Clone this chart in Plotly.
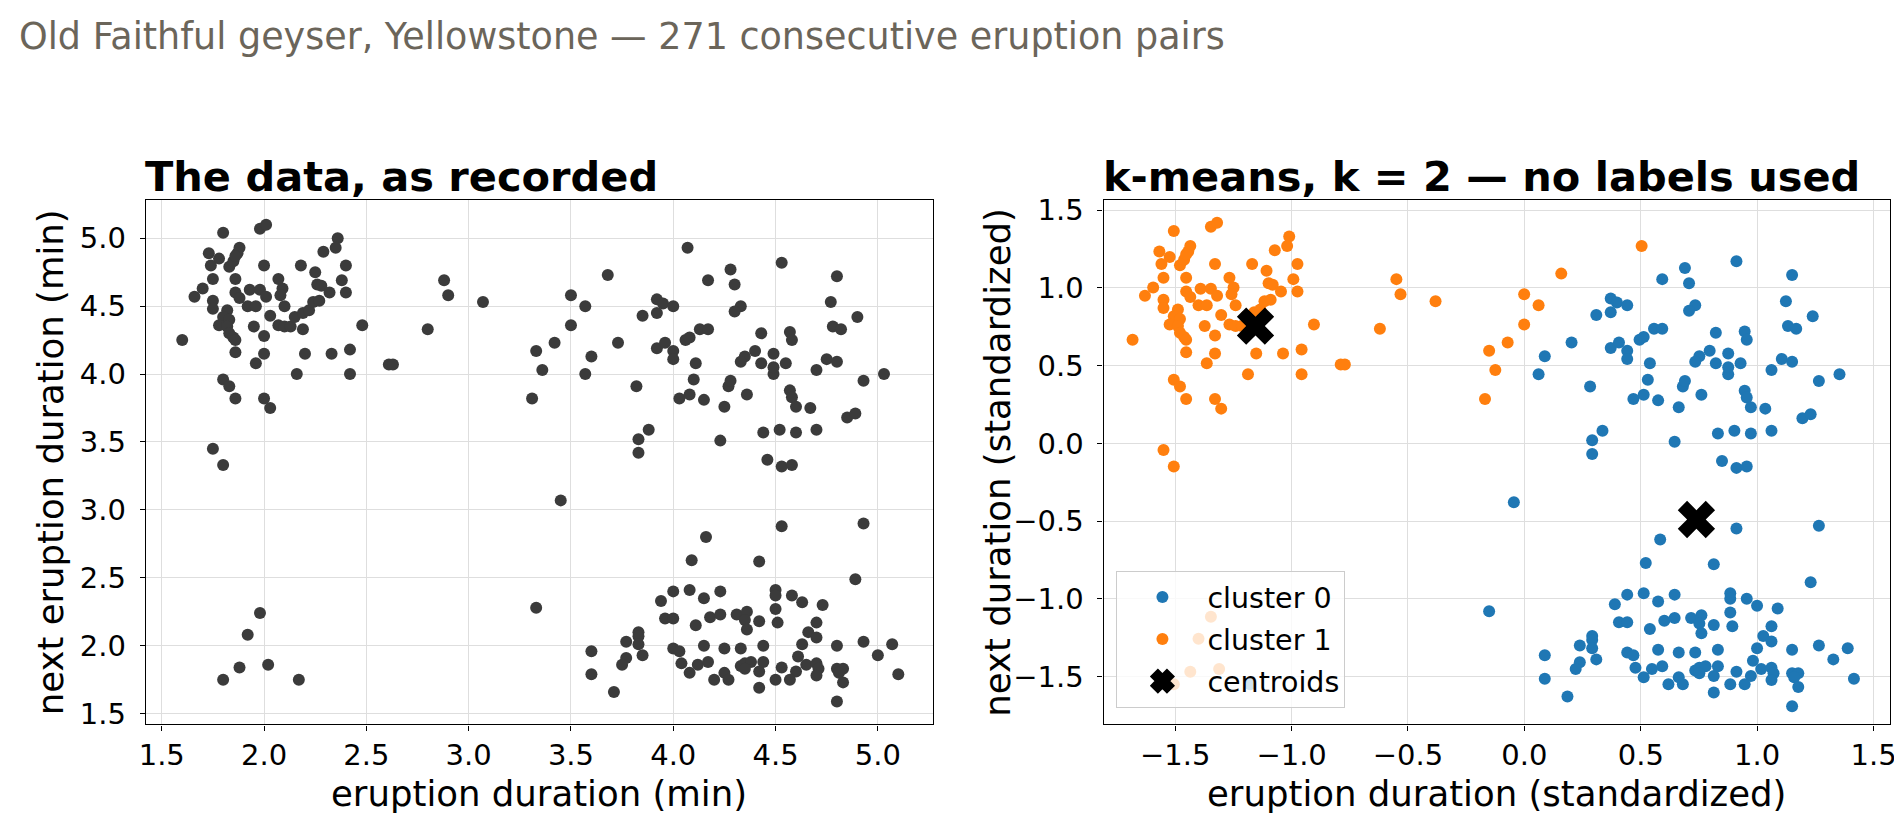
import numpy as np
import plotly.graph_objects as go

# Old Faithful: duration of one eruption (min) and of the next one (min)
eruption = [
    1.80, 1.98, 2.01, 1.73, 1.78, 1.83, 1.85, 1.87, 1.88, 1.86, 1.74, 2.00, 2.18, 2.25, 2.29,
    1.75, 1.86, 2.07, 1.70, 1.66, 1.75, 1.75, 1.86, 1.88, 1.93, 1.98, 2.01, 1.92, 1.96, 2.09,
    2.08, 2.10, 1.82, 1.80, 1.83, 1.78, 1.82, 1.95, 2.03, 2.07, 2.10, 2.13, 2.15, 2.19, 2.22,
    2.24, 2.27, 2.26, 2.28, 2.19, 1.83, 1.85, 1.86, 2.00, 1.60, 1.86, 2.00, 1.96, 2.20, 2.16,
    1.80, 1.83, 1.86, 2.00, 2.03,
    2.36, 2.35, 2.40, 2.38, 2.40, 2.32, 2.48, 2.33, 2.42, 2.42, 2.61, 2.63, 2.80, 2.88, 2.90,
    3.07, 3.42, 3.33, 3.36, 3.31,
    3.50, 3.57, 3.50, 3.60, 3.57, 3.68, 3.73, 3.82, 3.92, 3.95, 3.92, 3.85, 4.00, 3.92, 3.96,
    4.00, 4.00, 4.07, 4.17, 4.28, 4.30, 4.33, 4.30, 4.13, 4.17, 4.06, 4.08, 4.11, 4.10, 4.03,
    4.08, 4.15, 4.25, 4.27, 4.28, 4.36, 4.43, 4.40, 4.35, 4.33, 4.43, 4.49, 4.49, 4.53, 3.88,
    3.83, 4.23, 4.44, 4.52,
    4.80, 4.77, 4.90, 4.78, 4.82, 4.57, 4.58, 4.55, 4.49, 4.75, 4.80, 4.70, 4.93, 5.03, 4.57,
    4.58, 4.60, 4.67, 4.85, 4.89, 4.60, 4.70,
    1.75, 1.80, 1.98, 1.92, 1.88, 2.02, 1.80, 2.17,
    4.46, 3.83, 3.45, 3.33, 4.16, 4.09, 4.42, 4.00, 4.08, 4.15, 4.23, 3.94, 3.96, 4.00, 4.11,
    4.18, 4.23, 4.31, 4.36, 4.35, 4.36, 4.42, 3.83, 3.83, 3.77, 3.83, 3.60, 3.60, 3.77, 3.75,
    3.85, 3.71, 4.00, 4.03, 4.15, 4.25, 4.33, 4.44, 4.04, 4.08, 4.12, 4.17, 4.20, 4.25, 4.27,
    4.33, 4.35, 4.38, 4.35, 4.42, 4.44, 4.42,
    4.53, 4.58, 4.53, 4.93, 4.89, 4.50, 4.50, 4.58, 4.63, 4.73, 4.50, 4.51, 4.70, 4.66, 4.70,
    4.63, 4.80, 4.93, 5.07, 5.00, 4.53, 4.61, 4.65, 4.70, 4.71, 4.70, 4.60, 4.57, 4.50, 4.80,
    4.83, 4.81, 4.83, 4.80, 5.10,
]
next_eruption = [
    5.04, 5.07, 5.10, 4.89, 4.85, 4.79, 4.83, 4.89, 4.93, 4.87, 4.80, 4.80, 4.80, 4.75, 4.90,
    4.70, 4.70, 4.70, 4.63, 4.57, 4.54, 4.48, 4.60, 4.56, 4.62, 4.62, 4.57, 4.50, 4.50, 4.63,
    4.58, 4.50, 4.47, 4.42, 4.40, 4.36, 4.35, 4.35, 4.43, 4.36, 4.35, 4.35, 4.42, 4.45, 4.47,
    4.53, 4.54, 4.66, 4.65, 4.33, 4.30, 4.27, 4.25, 4.28, 4.25, 4.16, 4.15, 4.08, 4.15, 4.00,
    3.96, 3.91, 3.82, 3.82, 3.75,
    5.00, 4.93, 4.80, 4.69, 4.60, 4.60, 4.36, 4.15, 4.18, 4.00, 4.07, 4.07, 4.33, 4.69, 4.58,
    4.53, 4.23, 4.17, 4.03, 3.82,
    4.58, 4.50, 4.36, 4.13, 4.00, 4.73, 4.23, 3.91, 4.55, 4.52, 4.45, 4.43, 4.50, 4.19, 4.23,
    4.17, 4.11, 4.93, 4.69, 4.77, 4.66, 4.50, 4.46, 4.33, 4.33, 4.25, 4.27, 4.08, 3.96, 3.82,
    3.85, 3.81, 3.76, 3.91, 3.95, 3.85, 4.30, 4.17, 4.13, 4.09, 4.08, 4.15, 4.00, 4.82, 3.59,
    3.52, 3.51, 3.57, 3.59,
    4.72, 4.53, 4.42, 4.35, 4.33, 4.31, 4.25, 4.08, 4.05, 4.11, 4.09, 4.03, 3.95, 4.00, 3.88,
    3.83, 3.76, 3.75, 3.68, 3.71, 3.57, 3.59,
    3.45, 3.33, 2.24, 2.08, 1.84, 1.86, 1.75, 1.75,
    3.37, 3.42, 3.07, 2.28, 2.80, 2.63, 2.62, 2.40, 2.41, 2.35, 2.40, 2.33, 2.20, 2.20, 2.15,
    2.21, 2.23, 2.23, 2.25, 2.19, 2.12, 2.18, 2.10, 2.07, 2.03, 2.01, 1.96, 1.79, 1.91, 1.86,
    1.93, 1.66, 1.98, 1.96, 2.00, 1.98, 1.98, 2.00, 1.87, 1.80, 1.86, 1.88, 1.75, 1.80, 1.75,
    1.85, 1.87, 1.88, 1.83, 1.81, 1.88, 1.69,
    3.32, 3.33, 2.88, 2.90, 2.49, 2.41, 2.37, 2.37, 2.32, 2.30, 2.27, 2.17, 2.17, 2.10, 2.06,
    2.01, 2.00, 2.03, 2.01, 1.93, 1.84, 1.92, 1.86, 1.87, 1.83, 1.78, 1.81, 1.75, 1.75, 1.83,
    1.83, 1.80, 1.73, 1.59, 1.79,
]

# k-means centroids as drawn (standardized units): cluster 0, cluster 1
centroid_x = [0.739, -1.155]
centroid_y = [-0.490, 0.755]
cluster_names = ["cluster 0", "cluster 1"]
cluster_colors = ["#1f77b4", "#ff7f0e"]

left_xticks = [1.5, 2.0, 2.5, 3.0, 3.5, 4.0, 4.5, 5.0]
left_yticks = [1.5, 2.0, 2.5, 3.0, 3.5, 4.0, 4.5, 5.0]
right_ticks = [-1.5, -1.0, -0.5, 0.0, 0.5, 1.0, 1.5]

W, H = 1902, 814
FONT = "DejaVu Sans"
TICK_SIZE = 29
LABEL_SIZE = 35.5


def px_x(v):
    return v / W


def px_y(v):
    return 1 - v / H


# standardize both columns, then give every pair to its nearest centroid
x = np.array(eruption)
y = np.array(next_eruption)
zx = (x - x.mean()) / x.std()
zy = (y - y.mean()) / y.std()
cx = np.array(centroid_x)
cy = np.array(centroid_y)
dist = (zx[:, None] - cx[None, :]) ** 2 + (zy[:, None] - cy[None, :]) ** 2
label = dist.argmin(axis=1)

fig = go.Figure()

fig.add_trace(go.Scatter(
    x=eruption, y=next_eruption, mode="markers",
    marker=dict(color="#3b3b3b", size=12),
    showlegend=False, xaxis="x", yaxis="y",
))

for k in range(2):
    m = label == k
    fig.add_trace(go.Scatter(
        x=zx[m], y=zy[m], mode="markers", name=cluster_names[k],
        legendgroup=cluster_names[k],
        marker=dict(color=cluster_colors[k], size=12),
        xaxis="x2", yaxis="y2",
    ))

fig.add_trace(go.Scatter(
    x=centroid_x, y=centroid_y, mode="markers", name="centroids",
    marker=dict(color="black", symbol="x", size=33, line=dict(width=0)),
    showlegend=False, xaxis="x2", yaxis="y2",
))
# legend entry only: plotly caps legend marker size, a thick outline makes the X read bigger
fig.add_trace(go.Scatter(
    x=[None], y=[None], mode="markers", name="centroids", legendgroup="centroids",
    marker=dict(color="black", symbol="x", size=16, line=dict(width=5, color="black")),
    xaxis="x2", yaxis="y2",
))

axis_style = dict(
    showline=True, linecolor="black", linewidth=1.1, mirror=True,
    ticks="outside", ticklen=5, tickwidth=1.1, tickcolor="black",
    showgrid=True, gridcolor="#dedede", gridwidth=1, zeroline=False,
    tickfont=dict(family=FONT, size=TICK_SIZE, color="black"),
    tickformat=".1f",
)

fig.update_layout(
    width=W, height=H,
    margin=dict(l=0, r=0, t=0, b=0),
    paper_bgcolor="white", plot_bgcolor="white",
    font=dict(family=FONT, color="black"),
    xaxis=dict(domain=[px_x(131.7), px_x(924)], range=[1.422, 5.268],
               tickvals=left_xticks, anchor="y", **axis_style),
    yaxis=dict(domain=[px_y(721), px_y(188.5)], range=[1.42, 5.278],
               tickvals=left_yticks, anchor="x", ticklabelstandoff=8, **axis_style),
    xaxis2=dict(domain=[px_x(1096), px_x(1888)], range=[-1.808, 1.571],
                tickvals=right_ticks, anchor="y2", **axis_style),
    yaxis2=dict(domain=[px_y(721), px_y(188.5)], range=[-1.809, 1.563],
                tickvals=right_ticks, anchor="x2", ticklabelstandoff=8, **axis_style),
    legend=dict(
        x=px_x(1109), y=px_y(565), xanchor="left", yanchor="top",
        bgcolor="rgba(255,255,255,0.8)", bordercolor="#cccccc", borderwidth=1,
        font=dict(family=FONT, size=28.5, color="black"),
        itemwidth=80, tracegroupgap=2,
    ),
)

annotations = [
    # figure title
    dict(text="Old Faithful geyser, Yellowstone — 271 consecutive eruption pairs",
         x=px_x(2), y=px_y(22), xanchor="left", yanchor="middle",
         font=dict(family=FONT, size=36.5, color="#6b655a")),
    # panel titles
    dict(text="<b>The data, as recorded</b>", x=px_x(129), y=px_y(164),
         xanchor="left", yanchor="middle", font=dict(family=FONT, size=41.5)),
    dict(text="<b>k-means, k = 2 — no labels used</b>", x=px_x(1093), y=px_y(164),
         xanchor="left", yanchor="middle", font=dict(family=FONT, size=41.5)),
    # axis titles
    dict(text="eruption duration (min)", x=px_x(527.9), y=px_y(791),
         xanchor="center", yanchor="middle", font=dict(family=FONT, size=LABEL_SIZE)),
    dict(text="eruption duration (standardized)", x=px_x(1492), y=px_y(791),
         xanchor="center", yanchor="middle", font=dict(family=FONT, size=LABEL_SIZE)),
    dict(text="next eruption duration (min)", x=px_x(36), y=px_y(454.8), textangle=-90,
         xanchor="center", yanchor="middle", font=dict(family=FONT, size=LABEL_SIZE)),
    dict(text="next duration (standardized)", x=px_x(989), y=px_y(454.8), textangle=-90,
         xanchor="center", yanchor="middle", font=dict(family=FONT, size=LABEL_SIZE)),
]
for a in annotations:
    a.update(xref="paper", yref="paper", showarrow=False)
fig.update_layout(annotations=annotations)

fig.write_html("out.html")
